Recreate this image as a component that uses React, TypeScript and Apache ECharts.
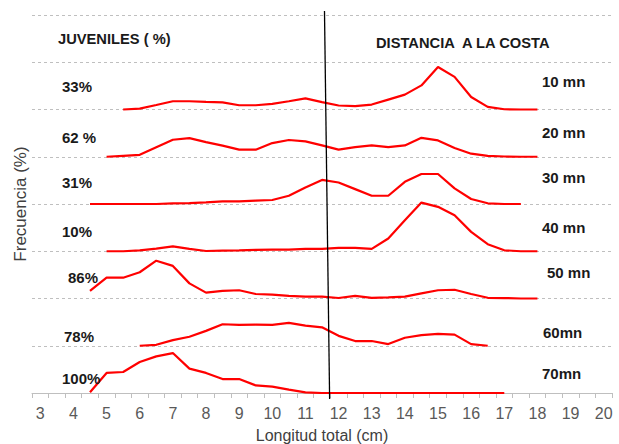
import React, { useEffect, useRef } from "react";
import * as echarts from "echarts";

// Length classes (cm), every 0.5 cm from 3 to 20
const lengths: string[] = [
  "3", "3.5", "4", "4.5", "5", "5.5", "6", "6.5", "7", "7.5", "8", "8.5",
  "9", "9.5", "10", "10.5", "11", "11.5", "12", "12.5", "13", "13.5", "14",
  "14.5", "15", "15.5", "16", "16.5", "17", "17.5", "18", "18.5", "19", "19.5", "20",
];

// Frequencies (%) per distance to coast; first value at the given start length
const start10 = "5.5";
const freq10 = [0, 0.4, 1.9, 3.5, 3.5, 3.2, 3.0, 1.8, 1.8, 2.4, 3.5, 4.7, 3.1, 1.7, 1.4, 2.1, 4.2, 6.3, 10.2, 18.0, 13.8, 5.3, 1.1, 0.1, 0, 0];
const start20 = "5";
const freq20 = [0, 0.4, 0.8, 4.0, 7.2, 7.9, 6.2, 4.7, 3.0, 3.0, 5.8, 7.1, 6.5, 4.8, 3.0, 4.1, 4.8, 4.1, 4.8, 8.0, 6.9, 3.7, 1.3, 0.4, 0.1, 0, 0];
const start30 = "4.5";
const freq30 = [0, 0, 0, 0, 0, 0.3, 0.4, 0.7, 1.1, 1.1, 1.4, 1.7, 3.5, 7.0, 10.2, 9.1, 6.3, 3.5, 3.5, 9.4, 12.7, 12.7, 6.6, 2.1, 0.3, 0, 0];
const start40 = "5";
const freq40 = [0, 0, 0.4, 1.1, 2.1, 1.0, 0.1, 0.3, 0.4, 0.6, 0.7, 0.7, 1.0, 1.0, 1.4, 1.4, 1.0, 5.4, 13.1, 20.6, 18.8, 15.2, 8.2, 3.0, 0.4, 0, 0];
const start50 = "4.5";
const freq50 = [3.2, 8.8, 8.8, 11.1, 16.0, 13.8, 6.4, 2.5, 3.2, 3.5, 1.9, 1.6, 1.1, 0.8, 0.8, 0.2, 1.1, 0.3, 0.5, 0.8, 2.2, 3.5, 3.7, 1.9, 0.3, 0.2, 0, 0];
const start60 = "6";
const freq60 = [0, 0.4, 2.4, 3.8, 6.3, 9.1, 8.8, 8.9, 8.8, 9.7, 8.5, 7.8, 4.2, 2.0, 2.0, 0.7, 3.4, 4.5, 5.0, 4.7, 0.7, 0];
const start70 = "4.5";
const freq70 = [0.3, 8.5, 8.9, 13.1, 15.5, 16.9, 10.3, 8.5, 5.9, 5.9, 3.2, 2.7, 1.4, 0.3, 0, 0, 0, 0, 0, 0, 0, 0, 0, 0, 0, 0];

const distances = ["10 mn", "20 mn", "30 mn", "40 mn", "50 mn", "60mn", "70mn"];
const juveniles = ["33%", "62 %", "31%", "10%", "86%", "78%", "100%"];

// Each ridge panel spans this many percent units
const PANEL = 20;
const PANELS = 8;

// Juvenile cut-off line (cm), slightly slanted as drawn in the original
const cutTop: [number, number] = [11.575, 161.7];
const cutBottom: [number, number] = [11.73, -2.5];

const FONT = '"Liberation Sans", Arial, Helvetica, sans-serif';

function buildRow(startLen: string, values: number[], offset: number) {
  const s = lengths.indexOf(startLen);
  return lengths.map((_, i) => {
    const j = i - s;
    if (j < 0 || j >= values.length) return null;
    return +(offset * PANEL + values[j]).toFixed(2);
  });
}

export default function App() {
  const ref = useRef<HTMLDivElement>(null);
  useEffect(() => {
    if (!ref.current) return;
    const chart = echarts.init(ref.current, undefined, { renderer: "svg" });
    const rows: [string, number[]][] = [
      [start10, freq10], [start20, freq20], [start30, freq30], [start40, freq40],
      [start50, freq50], [start60, freq60], [start70, freq70],
    ];
    const series: any[] = rows.map(([st, vals], i) => ({
      name: distances[i],
      type: "line",
      data: buildRow(st, vals, 6 - i),
      showSymbol: false,
      symbol: "none",
      lineStyle: { color: "#FF0000", width: 2.2 },
      connectNulls: false,
      z: 3,
    }));
    series.push({
      name: "cut",
      type: "line",
      xAxisIndex: 1,
      data: [cutTop, cutBottom],
      showSymbol: false,
      symbol: "none",
      clip: false,
      lineStyle: { color: "#000000", width: 1.3 },
      z: 5,
    });

    const leftY = [86, 137, 182, 231, 277, 336, 378];
    const leftX = [62, 62, 62, 62, 68, 64, 62];
    const rightY = [81, 132, 177, 227, 272, 332, 373];
    const rightX = [542, 542, 542, 542, 547, 543, 542];
    const graphics: any[] = [];
    juveniles.forEach((t, i) => {
      graphics.push({
        type: "text", x: leftX[i], y: leftY[i], z: 10,
        style: { text: t, fill: "#1a1a1a", font: `bold 15px ${FONT}`, textAlign: "left", verticalAlign: "middle" },
      });
    });
    distances.forEach((t, i) => {
      graphics.push({
        type: "text", x: rightX[i], y: rightY[i], z: 10,
        style: { text: t, fill: "#1a1a1a", font: `bold 15px ${FONT}`, textAlign: "left", verticalAlign: "middle" },
      });
    });
    graphics.push({
      type: "text", x: 58, y: 39, z: 10,
      style: { text: "JUVENILES ( %)", fill: "#1a1a1a", font: `bold 14.7px ${FONT}`, textAlign: "left", verticalAlign: "middle" },
    });
    graphics.push({
      type: "text", x: 376, y: 43, z: 10,
      style: { text: "DISTANCIA  A LA COSTA", fill: "#1a1a1a", font: `bold 14.7px ${FONT}`, textAlign: "left", verticalAlign: "middle" },
    });

    chart.setOption({
      animation: false,
      backgroundColor: "#ffffff",
      grid: { left: 32, right: 7, top: 15, bottom: 51, containLabel: false, outerBoundsMode: "none" },
      xAxis: [
        {
          type: "category",
          data: lengths,
          boundaryGap: true,
          name: "Longitud total (cm)",
          nameLocation: "middle",
          nameGap: 34,
          nameTextStyle: { color: "#404040", fontSize: 16, fontFamily: FONT },
          axisLine: { show: true, lineStyle: { color: "#BFBFBF", width: 1 } },
          axisTick: { show: true, interval: 0, length: 5, lineStyle: { color: "#BFBFBF" } },
          axisLabel: { interval: 1, color: "#595959", fontSize: 16, fontFamily: FONT, margin: 12 },
          splitLine: { show: false },
        },
        {
          type: "value",
          min: 2.75,
          max: 20.25,
          show: false,
        },
      ],
      yAxis: {
        type: "value",
        min: 0,
        max: PANEL * PANELS,
        interval: PANEL,
        name: "Frecuencia (%)",
        nameLocation: "middle",
        nameRotate: 90,
        nameGap: 3,
        nameTextStyle: { color: "#404040", fontSize: 17, fontFamily: FONT },
        axisLine: { show: false },
        axisTick: { show: false },
        axisLabel: { show: false },
        splitLine: { show: true, lineStyle: { color: "#BFBFBF", type: [3, 3], width: 1 } },
      },
      series,
      graphic: graphics,
    });
    return () => chart.dispose();
  }, []);
  return (
    <div
      ref={ref}
      style={{ position: "absolute", left: 0, top: 0, width: 619, height: 444 }}
    />
  );
}
